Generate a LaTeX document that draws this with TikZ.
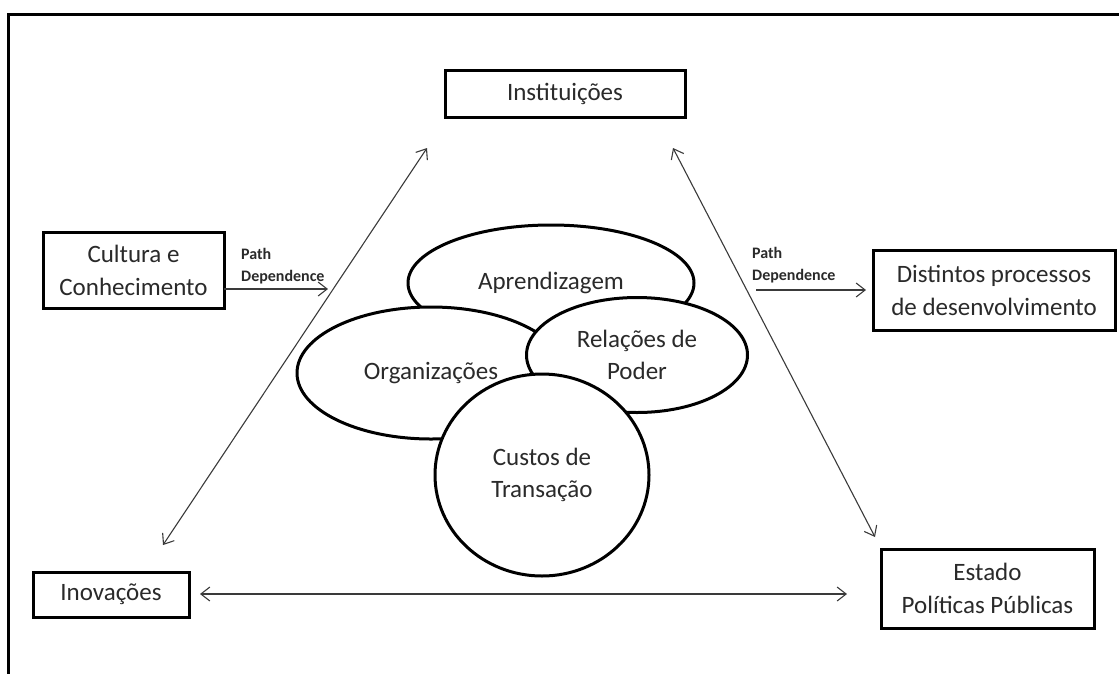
\documentclass[tikz,border=0pt]{standalone}
\usepackage{fontspec}
\setmainfont{Carlito}
\usetikzlibrary{shapes.geometric,arrows.meta}
\definecolor{txt}{HTML}{2A2A2A}
\definecolor{arr}{HTML}{3A3A3A}
\begin{document}
\begin{tikzpicture}[x=1pt,y=-1pt,
  box/.style={draw=black,line width=3pt,fill=white,inner sep=0pt,align=center,
    font=\fontsize{25}{33}\selectfont,text=txt},
  oval/.style={ellipse,draw=black,line width=3pt,fill=white,inner sep=0pt,align=center,
    font=\fontsize{25}{32}\selectfont,text=txt},
  conn/.style={draw=arr,line width=1.1pt},
  oneway/.style={conn,-{Straight Barb[length=9pt,width=14pt]}},
  twoway/.style={conn,{Straight Barb[length=9pt,width=14pt]}-{Straight Barb[length=9pt,width=14pt]}},
  pd/.style={font=\bfseries\fontsize{16}{22}\selectfont,text=txt,align=left,inner sep=0pt,anchor=west}
]
\useasboundingbox (0,0) rectangle (1119,673);
% frame
\draw[line width=3pt,line cap=rect] (8.3,673) -- (8.3,14.3) -- (1119,14.3);

% boxes
\node[box,minimum width=240pt,minimum height=47pt] (inst) at (565,93.5) {Instituições};
\node[box,minimum width=181pt,minimum height=76pt] (cult) at (133.5,270.5) {Cultura e\\Conhecimento};
\node[box,minimum width=242pt,minimum height=80pt] (dist) at (994,290) {Distintos processos\\de desenvolvimento};
\node[box,minimum width=156pt,minimum height=45pt] (inov) at (111,594.5) {Inovações};
\node[box,minimum width=213pt,minimum height=79pt] (est) at (987.5,588.5) {Estado\\Políticas Públicas};

% ovals
\node[oval,minimum width=286pt,minimum height=116pt] (apr) at (551,283) {Aprendizagem};
\node[oval,minimum width=268pt,minimum height=132pt] (org) at (431,373) {Organizações};
\node[oval,minimum width=221pt,minimum height=115pt] (rel) at (637,355) {Relações de\\Poder};
\node[oval,minimum width=214pt,minimum height=202pt] (cus) at (542,475) {Custos de\\Transação};

% path dependence labels
\node[pd] (pdl) at (241,266) {Path\\Dependence};
\node[pd] (pdr) at (752,265) {Path\\Dependence};

% connector end points
\coordinate (l1) at (224,289);
\coordinate (l2) at (328,289);
\coordinate (r1) at (756,290);
\coordinate (r2) at (866,290);
\coordinate (dl1) at (427,148);
\coordinate (dl2) at (163,545);
\coordinate (dr1) at (673,148);
\coordinate (dr2) at (875,537);
\coordinate (b1) at (200,594);
\coordinate (b2) at (847,594);

\draw[oneway] (l1) -- (l2);
\draw[oneway] (r1) -- (r2);
\draw[twoway] (dl1) -- (dl2);
\draw[twoway] (dr1) -- (dr2);
\draw[twoway] (b1) -- (b2);
\end{tikzpicture}
\end{document}
